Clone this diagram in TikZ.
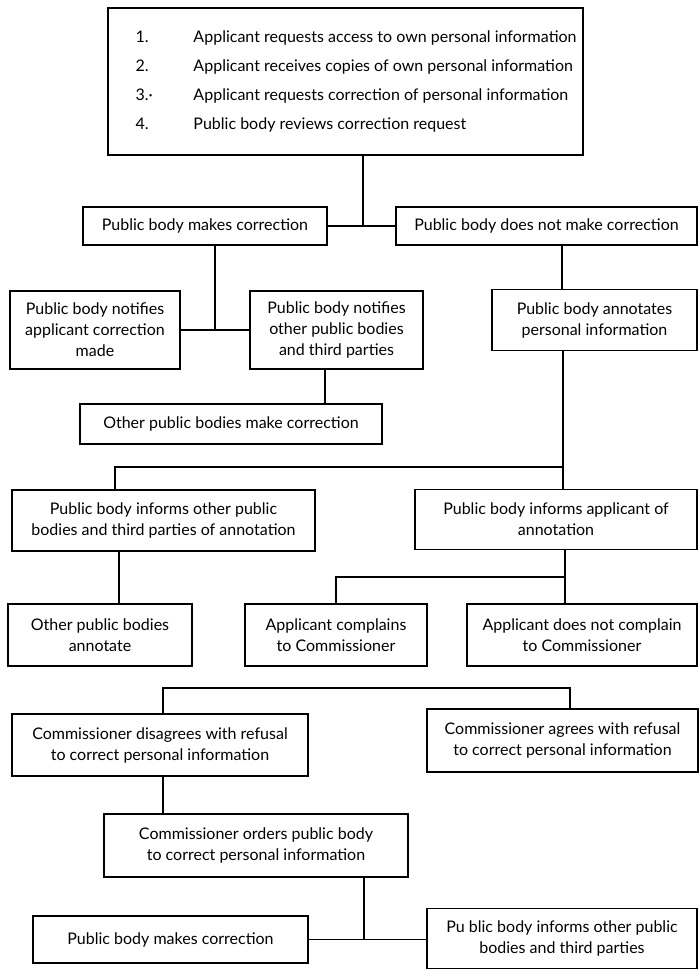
\documentclass[tikz,border=0pt]{standalone}
\usepackage{fontspec}
\setmainfont{Lato}
\usepackage{tikz}
\usetikzlibrary{positioning,calc}
\tikzset{
  figfont/.style={font=\fontsize{16}{21}\selectfont},
  figbox/.style={draw, line width=1.6pt, align=center, inner sep=3pt, fill=white},
  figline/.style={line width=1.2pt},
}

\begin{document}
\begin{tikzpicture}[figfont, x=1pt, y=-1pt]
  \useasboundingbox (0,0) rectangle (699,970);

  % Request box
  \node[figbox, minimum width=475pt, minimum height=147pt] (req) at (345.5,81.5)
    {\begin{tabular}{@{\hspace{21pt}}p{46pt}l@{}}
      \rule{0pt}{6pt}1. & Applicant requests access to own personal information\\[8pt]
      2. & Applicant receives copies of own personal information\\[8pt]
      3.· & Applicant requests correction of personal information\\[8pt]
      4. & Public body reviews correction request
     \end{tabular}};

  % Correction or not
  \node[figbox, minimum width=244pt, minimum height=38pt] (pmc) at (205,226) {Public body makes correction};
  \node[figbox, minimum width=301pt, minimum height=38pt] (pnc) at (546.5,226) {Public body does not make correction};

  % Correction branch
  \node[figbox, minimum width=170pt, minimum height=78pt] (nap) at (95,330) {Public body notifies\\applicant correction\\made};
  \node[figbox, minimum width=173pt, minimum height=78pt] (nop) at (336.5,330) {Public body notifies\\other public bodies\\and third parties};
  \node[figbox, minimum width=302pt, minimum height=40pt] (omc) at (231,424) {Other public bodies make correction};

  % Annotation branch
  \node[figbox, minimum width=205pt, minimum height=61pt] (pan) at (594.5,320) {Public body annotates\\personal information};
  \node[figbox, minimum width=303pt, minimum height=61pt] (poi) at (163.5,520.5) {Public body informs other public\\bodies and third parties of annotation};
  \node[figbox, minimum width=282pt, minimum height=60pt] (pia) at (556,519.5) {Public body informs applicant of\\annotation};
  \node[figbox, minimum width=184pt, minimum height=62pt] (opa) at (100,635) {Other public bodies\\annotate};
  \node[figbox, minimum width=182pt, minimum height=62pt] (pac) at (336,635) {Applicant complains\\to Commissioner};
  \node[figbox, minimum width=230pt, minimum height=62pt] (pdn) at (582,635) {Applicant does not complain\\to Commissioner};

  % Commissioner
  \node[figbox, minimum width=296pt, minimum height=62pt] (cdis) at (160,745) {Commissioner disagrees with refusal\\to correct personal information};
  \node[figbox, minimum width=271pt, minimum height=63pt] (cag) at (562.5,740.5) {Commissioner agrees with refusal\\to correct personal information};
  \node[figbox, minimum width=304pt, minimum height=63pt] (cord) at (256,845.5) {Commissioner orders public body\\to correct personal information};
  \node[figbox, minimum width=275pt, minimum height=47pt] (pmcb) at (170.5,939.5) {Public body makes correction};
  \node[figbox, minimum width=270pt, minimum height=60pt] (pio) at (562,938.5) {Pu blic body informs other public\\bodies and third parties};

  % Junctions
  \coordinate (j1) at (363,226);
  \coordinate (j2) at (215,330);
  \coordinate (j3) at (562,0);
  \coordinate (j4) at (325,0);
  \coordinate (j5) at (563,467);
  \coordinate (j5b) at (115,467);
  \coordinate (j6) at (119,0);
  \coordinate (j7) at (565,577);
  \coordinate (j7b) at (336,577);
  \coordinate (j8a) at (163,688);
  \coordinate (j8b) at (570,688);
  \coordinate (j10) at (364,939.5);

  % Connectors
  \draw[figline] (req.south -| j1) -- (j1);
  \draw[figline] (pmc) -- (pnc);
  \draw[figline] (pmc.south -| j2) -- (j2);
  \draw[figline] (nap) -- (nop);
  \draw[figline] (pnc.south -| j3) -- (pan.north -| j3);
  \draw[figline] (nop.south -| j4) -- (omc.north -| j4);
  \draw[figline] (pan.south -| j5) -- (pia.north -| j5);
  \draw[figline] (j5) -- (j5b) -- (poi.north -| j5b);
  \draw[figline] (poi.south -| j6) -- (opa.north -| j6);
  \draw[figline] (pia.south -| j7) -- (pdn.north -| j7);
  \draw[figline] (j7) -- (j7b) -- (pac.north -| j7b);
  \draw[figline] (cdis.north -| j8a) -- (j8a) -- (j8b) -- (cag.north -| j8b);
  \draw[figline] (cdis.south -| j8a) -- (cord.north -| j8a);
  \draw[figline] (cord.south -| j10) -- (j10);
  \draw[figline] (pmcb.east) -- (pmcb.east -| pio.west);
\end{tikzpicture}
\end{document}
